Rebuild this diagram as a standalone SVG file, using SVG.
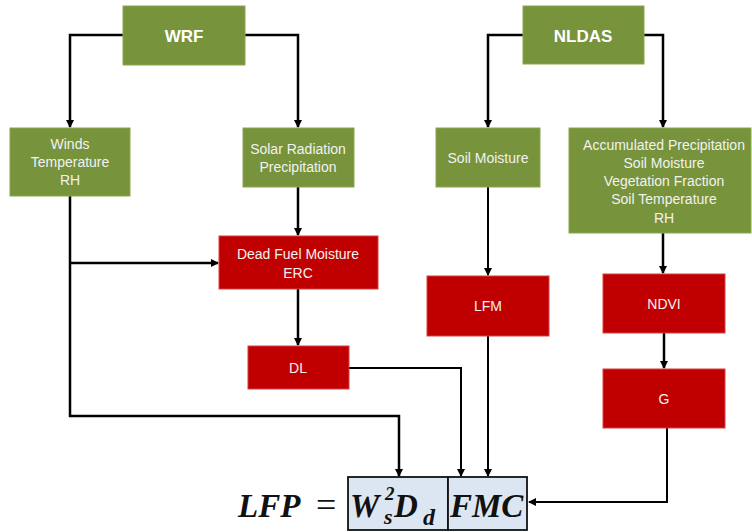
<svg xmlns="http://www.w3.org/2000/svg" width="752" height="532" viewBox="0 0 752 532">
<style>
.g{fill:#77933C;stroke:#8aa64e;stroke-width:1}
.r{fill:#C00000;stroke:#d24040;stroke-width:1}
.t{font-family:"Liberation Sans",Arial,sans-serif;font-size:14px;fill:#f2f2f2;text-anchor:middle}
.tb{font-family:"Liberation Sans",Arial,sans-serif;font-size:17px;font-weight:bold;fill:#ffffff;text-anchor:middle}
.c{fill:none;stroke:#000;stroke-width:2.5;marker-end:url(#a)}
.c2{fill:none;stroke:#000;stroke-width:2;marker-end:url(#a)}
.m{font-family:"Liberation Serif","Times New Roman",serif;font-weight:bold;font-style:italic;fill:#111}
.fb{fill:#DCE6F2;stroke:#111;stroke-width:1.8}
</style>
<defs>
<marker id="a" markerWidth="10" markerHeight="10" refX="7" refY="5" orient="auto" markerUnits="userSpaceOnUse">
<path d="M0,1 L8,5 L0,9 Z" fill="#000"/>
</marker>
</defs>
<rect width="752" height="532" fill="#fff"/>
<g id="connectors">
<path class="c" d="M123,35 H70 V127"/>
<path class="c" d="M245,35 H298 V127"/>
<path class="c" d="M523,35 H488 V127"/>
<path class="c" d="M644,35 H663 V127"/>
<path class="c" d="M298,187 V235"/>
<path class="c" d="M70,196 V416 H399 V476"/>
<path class="c" d="M70,263 H218"/>
<path class="c" d="M298,289 V345"/>
<path class="c2" d="M349,368 H461 V476"/>
<path class="c2" d="M488,187 V275"/>
<path class="c2" d="M488,336 V476"/>
<path class="c" d="M663,233 V273"/>
<path class="c" d="M664,333 V368"/>
<path class="c2" d="M667,428 V502 H529"/>
</g>
<g id="wrf"><rect class="g" x="123" y="6" width="122" height="59"/><text class="tb" x="184" y="42">WRF</text></g>
<g id="nldas"><rect class="g" x="523" y="6" width="121" height="58"/><text class="tb" x="583" y="42">NLDAS</text></g>
<g id="winds"><rect class="g" x="10" y="128" width="120" height="68"/>
<text class="t" x="70" y="149">Winds</text><text class="t" x="70" y="167">Temperature</text><text class="t" x="70" y="185">RH</text></g>
<g id="solar"><rect class="g" x="243" y="128" width="111" height="59"/>
<text class="t" x="298" y="154">Solar Radiation</text><text class="t" x="298" y="172">Precipitation</text></g>
<g id="soil"><rect class="g" x="436" y="128" width="104" height="59"/><text class="t" x="488" y="163">Soil Moisture</text></g>
<g id="accum"><rect class="g" x="569" y="128" width="182" height="105"/>
<text class="t" x="664" y="150">Accumulated Precipitation</text><text class="t" x="664" y="168">Soil Moisture</text>
<text class="t" x="664" y="186">Vegetation Fraction</text><text class="t" x="664" y="204">Soil Temperature</text><text class="t" x="664" y="223">RH</text></g>
<g id="deadfuel"><rect class="r" x="219" y="236" width="159" height="53"/>
<text class="t" x="298" y="259">Dead Fuel Moisture</text><text class="t" x="298" y="278">ERC</text></g>
<g id="dl"><rect class="r" x="248" y="346" width="101" height="43"/><text class="t" x="298" y="373">DL</text></g>
<g id="lfm"><rect class="r" x="427" y="276" width="122" height="60"/><text class="t" x="488" y="311">LFM</text></g>
<g id="ndvi"><rect class="r" x="603" y="274" width="122" height="59"/><text class="t" x="664" y="309">NDVI</text></g>
<g id="gnode"><rect class="r" x="603" y="369" width="122" height="59"/><text class="t" x="664" y="404">G</text></g>
<g id="formula">
<rect class="fb" x="348" y="477" width="100" height="53"/>
<rect class="fb" x="448" y="477" width="79" height="53"/>
<text class="m" x="238" y="517" font-size="33">LFP</text>
<text x="316" y="517" font-size="36" font-family="Liberation Serif,serif" fill="#111">=</text>
<text class="m" x="350" y="517" font-size="33">W</text>
<text class="m" x="385" y="500" font-size="19">2</text>
<text class="m" x="384" y="524" font-size="22">s</text>
<text class="m" x="394" y="517" font-size="33">D</text>
<text class="m" x="423" y="525" font-size="24">d</text>
<text class="m" x="450" y="517" font-size="33">FMC</text>
</g>
</svg>
